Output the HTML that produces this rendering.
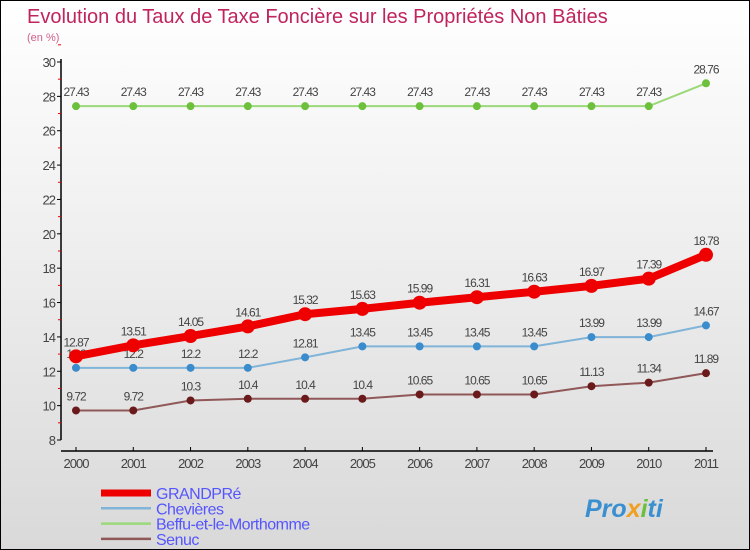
<!DOCTYPE html>
<html><head><meta charset="utf-8"><style>
body{margin:0}
#c{width:750px;height:550px;position:relative;box-sizing:border-box;border:1px solid #000;background:linear-gradient(#fff,#f4f4f4 30%,#d9d9d9);font-family:"Liberation Sans",sans-serif;overflow:hidden}
svg{position:absolute;left:0;top:0}
</style></head><body>
<div id="c">
<svg id="s" width="750" height="550">
<text x="26" y="22" font-size="20" fill="#c0245c" font-family="Liberation Sans,sans-serif">Evolution du Taux de Taxe Foncière sur les Propriétés Non Bâties</text>
<text x="26" y="40" font-size="11" fill="#d0608a">(en %)</text>
<text x="584" y="516" font-size="25" font-weight="bold" font-style="italic" fill="#3a8fd0">Pro<tspan fill="#f0a020">x</tspan><tspan fill="#6cc03c">i</tspan>ti</text>
</svg>
</div>
<script>
const years=[2000,2001,2002,2003,2004,2005,2006,2007,2008,2009,2010,2011];
const grandpre=[12.87,13.51,14.05,14.61,15.32,15.63,15.99,16.31,16.63,16.97,17.39,18.78];
const chevieres=[12.2,12.2,12.2,12.2,12.81,13.45,13.45,13.45,13.45,13.99,13.99,14.67];
const beffu=[27.43,27.43,27.43,27.43,27.43,27.43,27.43,27.43,27.43,27.43,27.43,28.76];
const senuc=[9.72,9.72,10.3,10.4,10.4,10.4,10.65,10.65,10.65,11.13,11.34,11.89];
const yTicks=[8,10,12,14,16,18,20,22,24,26,28,30];
const NS="http://www.w3.org/2000/svg";
const s=document.getElementById('s');
const X=i=>75+i*(630/11);
const Y=v=>439-(v-8)*(378/22);
function el(t,a,p){const e=document.createElementNS(NS,t);for(const k in a)e.setAttribute(k,a[k]);(p||s).appendChild(e);return e;}
let ax=el('line',{x1:60,y1:58,x2:60,y2:439,stroke:'#000','stroke-width':1.5});


let xx=el('line',{x1:60,y1:450,x2:712,y2:450,stroke:'#000','stroke-width':1.5});


yTicks.forEach(v=>{
  el('line',{x1:56,y1:Y(v),x2:60,y2:Y(v),stroke:'#000'});
  el('line',{x1:57,y1:Y(v+1),x2:60,y2:Y(v+1),stroke:'#e00'});
  const t=el('text',{x:54,y:Y(v)+5,'font-size':13,fill:'#444','text-anchor':'end','letter-spacing':'-1'});
  t.textContent=v;
  
  
});
years.forEach((y,i)=>{
  el('line',{x1:X(i),y1:446,x2:X(i),y2:450,stroke:'#000'});
  const t=el('text',{x:X(i),y:467,'font-size':13,fill:'#444','text-anchor':'middle','letter-spacing':'-1'});
  t.textContent=y;
  
  
});
const series=[
 {n:'beffu',d:beffu,c:'#9ad87a',p:'#6cc03c',w:2,r:4,label:'Beffu-et-le-Morthomme'},
 {n:'chevieres',d:chevieres,c:'#80b4d8',p:'#3a8ccc',w:2,r:4,label:'Chevières'},
 {n:'senuc',d:senuc,c:'#905858',p:'#6a1a1a',w:2,r:4,label:'Senuc'},
 {n:'grandpre',d:grandpre,c:'#ee0000',p:'#ee0000',w:8,r:7,label:'GRANDPRé'}
];
series.forEach(sr=>{
  const pl=el('polyline',{points:sr.d.map((v,i)=>X(i)+','+Y(v)).join(' '),fill:'none',stroke:sr.c,'stroke-width':sr.w});
  
  
  sr.d.forEach((v,i)=>{
    const c=el('circle',{cx:X(i),cy:Y(v),r:sr.r,fill:sr.p});
    
    
    const t=el('text',{x:X(i),y:Y(v)-10,'font-size':12,fill:'#444','text-anchor':'middle','letter-spacing':'-1'});
    t.textContent=String(v);
    
    
  });
});
const leg=[series[3],series[1],series[0],series[2]];
leg.forEach((sr,k)=>{
  const y=492+k*15.3;
  const l=el('line',{x1:100,y1:y,x2:150,y2:y,stroke:sr.c,'stroke-width':sr.n==='grandpre'?7:2.5});
  
  
  const t=el('text',{x:155,y:y+6,'font-size':16,fill:'#5555ff','letter-spacing':'-0.5'});
  t.textContent=sr.label;
  
  
});
</script>
</body></html>
